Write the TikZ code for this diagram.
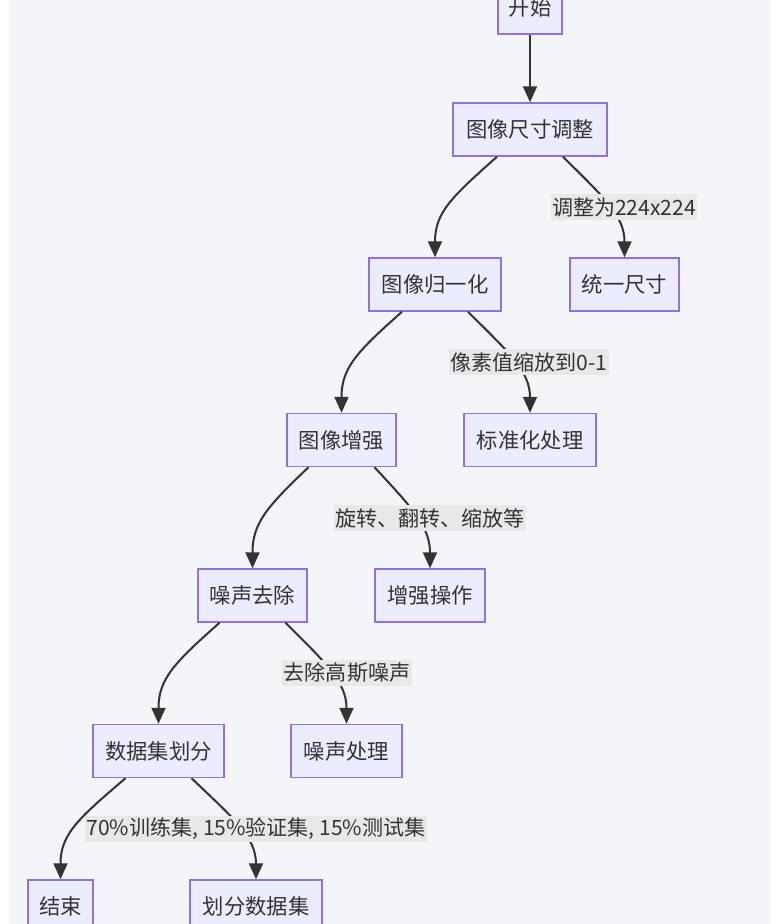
\documentclass[tikz,border=0pt]{standalone}
\usepackage{fontspec}
\setmainfont{Noto Sans CJK SC}
\usetikzlibrary{arrows.meta}
\definecolor{panel}{HTML}{F4F5F8}
\definecolor{nodefill}{HTML}{ECECFF}
\definecolor{nodeborder}{HTML}{9370DB}
\definecolor{edgecol}{HTML}{333333}
\definecolor{lblbg}{HTML}{E8E8E8}
\definecolor{txt}{HTML}{333333}
\begin{document}
\begin{tikzpicture}[x=0.75pt,y=-0.75pt,
  box/.style={draw=nodeborder, fill=nodefill, line width=1.1pt, minimum height=39.75pt,
    inner sep=0pt, font=\fontsize{16}{19}\selectfont, text=txt},
  lbl/.style={fill=lblbg, inner xsep=1pt, inner ysep=0pt, minimum height=19.5pt,
    font=\fontsize{15.8}{19}\selectfont, text=txt},
  edge/.style={draw=edgecol, line width=1.5pt, -{Triangle[length=12pt,width=10.5pt]}}]
\fill[white] (0,0) rectangle (777,924);
\fill[panel] (9,0) rectangle (771,924);
\useasboundingbox (0,0) rectangle (777,924);

\node[box, minimum width=48pt]    (start)  at (530,7.5)   {开始};
\node[box, minimum width=115.5pt] (resize) at (530,129.5) {图像尺寸调整};
\node[box, minimum width=99pt]    (norm)   at (435,284.5) {图像归一化};
\node[box, minimum width=81.75pt] (unify)  at (624.5,284.5) {统一尺寸};
\node[box, minimum width=81.75pt] (aug)    at (341.5,440) {图像增强};
\node[box, minimum width=99pt]    (std)    at (530,440)   {标准化处理};
\node[box, minimum width=81.75pt] (denoise) at (252.5,595.5) {噪声去除};
\node[box, minimum width=82.5pt]  (augop)  at (430,595.5) {增强操作};
\node[box, minimum width=98.25pt] (split)  at (158.5,751) {数据集划分};
\node[box, minimum width=83.25pt] (noise)  at (346.5,751) {噪声处理};
\node[box, minimum width=48.75pt] (end)    at (60.5,906.5) {结束};
\node[box, minimum width=99pt]    (divide) at (256,906.5) {划分数据集};

\draw[edge] (start.south) -- (resize.north);

% left (main) edges
\draw[edge] ([xshift=-24.75pt]resize.south) .. controls +(-45,40) and +(0,-45) .. (norm.north);
\draw[edge] ([xshift=-24.75pt]norm.south) .. controls +(-45,40) and +(0,-45) .. (aug.north);
\draw[edge] ([xshift=-24.75pt]aug.south) .. controls +(-42,40) and +(0,-45) .. (denoise.north);
\draw[edge] ([xshift=-24.75pt]denoise.south) .. controls +(-45,40) and +(0,-45) .. (split.north);
\draw[edge] ([xshift=-24.75pt]split.south) .. controls +(-47,40) and +(0,-45) .. (end.north);

% right (labelled) edges
\draw[edge] ([xshift=24.75pt]resize.south) .. controls +(40,40) and +(0,-42) .. (unify.north);
\draw[edge] ([xshift=24.75pt]norm.south) .. controls +(40,40) and +(0,-42) .. (std.north);
\draw[edge] ([xshift=24.75pt]aug.south) .. controls +(37,40) and +(0,-42) .. (augop.north);
\draw[edge] ([xshift=24.75pt]denoise.south) .. controls +(40,40) and +(0,-42) .. (noise.north);
\draw[edge] ([xshift=24.75pt]split.south) .. controls +(42,40) and +(0,-42) .. (divide.north);

\node[lbl] (l1) at (624,207) {调整为224x224};
\node[lbl] (l2) at (529,362) {像素值缩放到0-1};
\node[lbl] (l3) at (430,518) {旋转、翻转、缩放等};
\node[lbl] (l4) at (347,673) {去除高斯噪声};
\node[lbl] (l5) at (256,829) {70\%训练集, 15\%验证集, 15\%测试集};
\end{tikzpicture}
\end{document}
